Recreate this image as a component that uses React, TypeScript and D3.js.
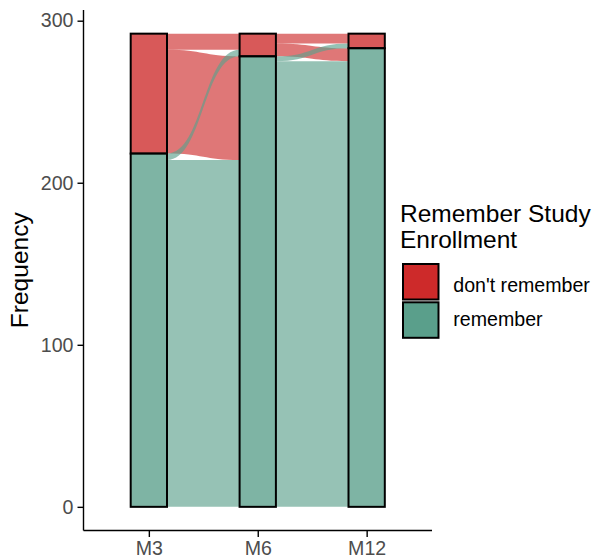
import { useEffect, useRef } from "react";
import * as d3 from "d3";

// Time points on the x axis
const timepoints = ["M3", "M6", "M12"];
// Response levels, drawn top to bottom
const responses = ["don't remember", "remember"];
const legendTitle = ["Remember Study", "Enrollment"];
const yTicks = [0, 100, 200, 300];

// Counts per time point: [don't remember, remember]
const countsM3 = [74, 218];
const countsM6 = [14, 278];
const countsM12 = [9, 283];
const strataCounts = [countsM3, countsM6, countsM12];

// Flows between neighbouring time points: rows = from, cols = to
const flowsM3toM6 = [
  [10, 64],
  [4, 214],
];
const flowsM6toM12 = [
  [6, 8],
  [3, 275],
];
const flowSets = [flowsM3toM6, flowsM6toM12];

const BASE = ["#CD2A2A", "#5A9F8B"];
const FONT = "'Liberation Sans', Arial, sans-serif";

export default function App() {
  const ref = useRef<SVGSVGElement>(null);

  useEffect(() => {
    if (!ref.current) return;
    const svg = d3.select(ref.current);
    svg.selectAll("*").remove();

    const total = d3.sum(countsM3);
    const panel = { left: 83.5, right: 432, top: 10, bottom: 530.5 };

    // discrete x with ggplot's 0.6 expansion
    const step = (panel.right - panel.left) / (timepoints.length - 1 + 1.2);
    const x = d3
      .scalePoint<string>()
      .domain(timepoints)
      .range([panel.left + 0.6 * step, panel.right - 0.6 * step]);
    const w = step / 3;

    const pad = total * 0.05;
    const y = d3
      .scaleLinear()
      .domain([-pad, total + pad])
      .range([panel.bottom, panel.top]);

    // stratum extents (value units) per axis, top-first stacking
    const strata = strataCounts.map((counts) => {
      let top = total;
      return counts.map((c) => {
        const s = { top, bottom: top - c };
        top -= c;
        return s;
      });
    });

    // flows
    const gFlows = svg.append("g");
    flowSets.forEach((flows, i) => {
      const x0 = x(timepoints[i])! + w / 2;
      const x1 = x(timepoints[i + 1])! - w / 2;
      const xm = (x0 + x1) / 2;
      const leftOff = strata[i].map((s) => s.top);
      const rightOff = strata[i + 1].map((s) => s.top);
      const shapes: { from: number; d: string }[] = [];
      // right side order: within dest stratum, by source
      const rightPos: number[][] = flows.map(() => [0, 0]);
      responses.forEach((_, t) => {
        responses.forEach((__, f) => {
          rightPos[f][t] = rightOff[t];
          rightOff[t] -= flows[f][t];
        });
      });
      flows.forEach((row, f) => {
        row.forEach((v, t) => {
          const lt = leftOff[f];
          const lb = lt - v;
          leftOff[f] = lb;
          const rt = rightPos[f][t];
          const rb = rt - v;
          const d =
            `M${x0},${y(lt)}C${xm},${y(lt)} ${xm},${y(rt)} ${x1},${y(rt)}` +
            `L${x1},${y(rb)}C${xm},${y(rb)} ${xm},${y(lb)} ${x0},${y(lb)}Z`;
          shapes.push({ from: f, d });
        });
      });
      shapes.forEach((s) => {
        gFlows
          .append("path")
          .attr("d", s.d)
          .attr("fill", BASE[s.from])
          .attr("fill-opacity", 0.64)
          .attr("stroke", "none");
      });
    });

    // strata
    const gStrata = svg.append("g");
    strata.forEach((col, i) => {
      col.forEach((s, r) => {
        gStrata
          .append("rect")
          .attr("x", x(timepoints[i])! - w / 2)
          .attr("y", y(s.top))
          .attr("width", w)
          .attr("height", y(s.bottom) - y(s.top))
          .attr("fill", BASE[r])
          .attr("fill-opacity", 0.78)
          .attr("stroke", "#000")
          .attr("stroke-width", 2);
      });
    });

    // axes
    const yAxis = svg
      .append("g")
      .attr("transform", `translate(${panel.left},0)`)
      .call(d3.axisLeft(y).tickValues(yTicks).tickSize(6).tickPadding(4));
    yAxis.select(".domain").attr("d", `M0,${panel.top}V${panel.bottom}`);
    const xAxis = svg
      .append("g")
      .attr("transform", `translate(0,${panel.bottom})`)
      .call(d3.axisBottom(x).tickSize(6.5).tickPadding(4));
    xAxis.select(".domain").attr("d", `M${panel.left},0H${panel.right}`);
    [yAxis, xAxis].forEach((a) => {
      a.selectAll(".domain, line").attr("stroke", "#000").attr("stroke-width", 1.4);
      a.selectAll("text")
        .attr("fill", "#4D4D4D")
        .style("font-family", FONT)
        .style("font-size", "19.6px");
    });

    svg
      .append("text")
      .attr("transform", `translate(28,${(panel.top + panel.bottom) / 2}) rotate(-90)`)
      .attr("text-anchor", "middle")
      .style("font-family", FONT)
      .style("font-size", "24.5px")
      .text("Frequency");

    // legend
    const lg = svg.append("g").attr("transform", "translate(400,0)");
    legendTitle.forEach((t, i) => {
      lg.append("text")
        .attr("x", 0)
        .attr("y", 222.3 + i * 26)
        .style("font-family", FONT)
        .style("font-size", "24.5px")
        .text(t);
    });
    responses.forEach((r, i) => {
      lg.append("rect")
        .attr("x", 3)
        .attr("y", 264 + i * 38.3)
        .attr("width", 35.5)
        .attr("height", 35.5)
        .attr("fill", BASE[i])
        .attr("stroke", "#000")
        .attr("stroke-width", 2);
      lg.append("text")
        .attr("x", 53.3)
        .attr("y", 291.7 + i * 34)
        .style("font-family", FONT)
        .style("font-size", "19.6px")
        .text(r);
    });
  }, []);

  return (
    <svg
      ref={ref}
      width={597}
      height={559}
      style={{ display: "block", position: "absolute", left: 0, top: 0 }}
    />
  );
}
